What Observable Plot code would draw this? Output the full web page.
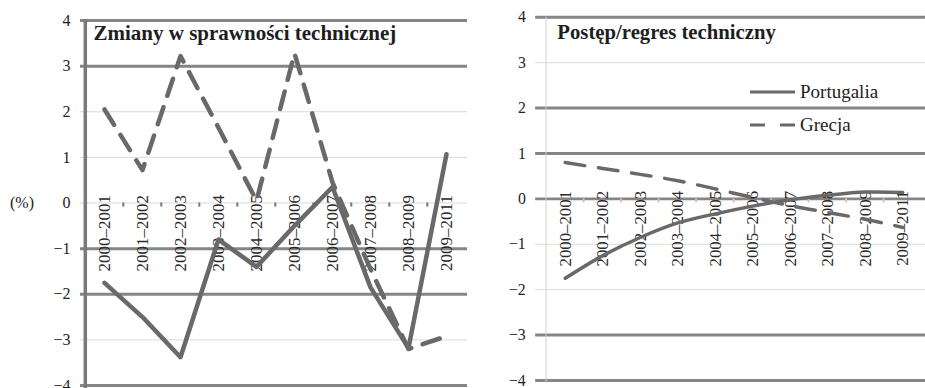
<!DOCTYPE html>
<html>
<head>
<meta charset="utf-8">
<script src="https://cdn.jsdelivr.net/npm/d3@7"></script>
<script src="https://cdn.jsdelivr.net/npm/@observablehq/plot@0.6"></script>
<style>
  body { margin: 0; background: #fff; overflow: hidden; }
  #wrap { position: relative; width: 925px; height: 388px; overflow: hidden; font-family: "Liberation Serif", "Times New Roman", serif; color: #222; }
  #left, #right { position: absolute; top: 0; }
  #left { left: 0; }
  #right { left: 470px; }
  .pct { position: absolute; left: 10px; top: 195px; font-size: 16px; line-height: 16px; }
  .legend { position: absolute; left: 750px; top: 75px; font-size: 19px; line-height: 26px; }
  .legend .row { display: flex; align-items: center; height: 33px; }
  .legend svg { margin-right: 5px; }
</style>
</head>
<body>
<div id="wrap">
  <div id="left"></div>
  <div id="right"></div>
  <div class="pct">(%)</div>
  <div class="legend" id="legend"></div>
</div>
<script>
// ---- data ----
const categories = ["2000–2001","2001–2002","2002–2003","2003–2004","2004–2005","2005–2006","2006–2007","2007–2008","2008–2009","2009–2011"];
const yTicks = [-4, -3, -2, -1, 0, 1, 2, 3, 4];
const seriesNames = ["Portugalia", "Grecja"];
const titles = ["Zmiany w sprawności technicznej", "Postęp/regres techniczny"];
// Zmiany w sprawności technicznej
const effPortugalia = [-1.75, -2.5, -3.38, -0.8, -1.4, -0.5, 0.35, -1.85, -3.18, 1.07];
const effGrecja     = [2.05, 0.72, 3.22, 1.65, 0.05, 3.28, 0.45, -1.45, -3.2, -2.92];
// Postęp/regres techniczny
const techPortugalia = [-1.75, -1.25, -0.85, -0.53, -0.33, -0.16, -0.02, 0.08, 0.15, 0.14];
const techGrecja     = [0.8, 0.67, 0.54, 0.4, 0.22, 0.03, -0.15, -0.3, -0.45, -0.63];

// ---- styles ----
const LINE = "#696969";
const GRID_DARK = "#858585";
const GRID_LIGHT = "#d9d9d9";
const FONT = "Liberation Serif, Times New Roman, serif";

const rows = vals => categories.map((c, i) => ({cat: c, v: vals[i]}));
const fmt = d => d < 0 ? "\u2212" + Math.abs(d) : String(d);

function panel(o) {
  const step = (o.width - o.marginLeft - o.marginRight) / categories.length;
  return Plot.plot({
    width: o.width,
    height: 388,
    marginLeft: o.marginLeft,
    marginRight: o.marginRight,
    marginTop: o.marginTop,
    marginBottom: 3,
    style: {fontFamily: FONT, fontSize: "16px", color: "#222", background: "transparent", overflow: "visible"},
    x: {type: "point", domain: categories, padding: 0.5, axis: null},
    y: {domain: [-4, 4], ticks: yTicks, tickFormat: fmt, tickSize: 0, tickPadding: o.tickPadding, label: null},
    marks: [
      Plot.ruleY(yTicks.filter(d => !o.thick.includes(d)), {y: d => d, stroke: GRID_LIGHT, strokeWidth: 1, insetLeft: -o.gridInset}),
      Plot.ruleY(o.thick, {y: d => d, stroke: GRID_DARK, strokeWidth: 3, insetLeft: -o.gridInset}),
      Plot.ruleX([categories[0]], {x: d => d, dx: -step / 2, stroke: o.axisColor, strokeWidth: o.axisWidth, insetBottom: -3}),
      Plot.ruleX(categories.slice(1), {x: d => d, dx: -step / 2, y1: () => 0, y2: () => -0.09, stroke: o.tickColor, strokeWidth: 2}),
      Plot.text(categories, {x: d => d, y: () => 0, text: d => d, rotate: -90, textAnchor: "end", dy: -8, fontSize: 17, fill: "#2a2a2a"}),
      Plot.line(rows(o.portugalia), {x: "cat", y: "v", stroke: LINE, strokeWidth: o.lineWidth, curve: o.curve}),
      Plot.line(rows(o.grecja), {x: "cat", y: "v", stroke: LINE, strokeWidth: o.lineWidth, strokeDasharray: o.dash, curve: o.curve}),
      Plot.text([o.title], {frameAnchor: "top-left", text: d => d, dx: o.titleDx, dy: o.titleDy, lineAnchor: "top", textAnchor: "start", fontSize: 21, fontWeight: "bold", fill: "#1e1e1e"})
    ]
  });
}

document.getElementById("left").append(panel({
  width: 470, marginLeft: 83, marginRight: 3, marginTop: 20,
  tickPadding: 13, gridInset: 3,
  thick: [4, 3, -1, -2, -4],
  axisColor: "#7a7a7a", axisWidth: 3.5, tickColor: "#777",
  lineWidth: 4.5, dash: "18,12", curve: "linear",
  portugalia: effPortugalia, grecja: effGrecja,
  title: titles[0], titleDx: 10, titleDy: 5
}));

document.getElementById("right").append(panel({
  width: 461, marginLeft: 72, marginRight: 0, marginTop: 17,
  tickPadding: 16, gridInset: 6,
  thick: [4, 2, 1, 0, -3, -4],
  axisColor: "#d0d0d0", axisWidth: 1, tickColor: "#c8c8c8",
  lineWidth: 3.5, dash: "20,14", curve: "catmull-rom",
  portugalia: techPortugalia, grecja: techGrecja,
  title: titles[1], titleDx: 16, titleDy: 7
}));

// legend
const legend = document.getElementById("legend");
const dashes = [null, "15,15"];
seriesNames.forEach((name, i) => {
  const row = document.createElement("div");
  row.className = "row";
  row.innerHTML = `<svg width="45" height="10"><line x1="0" x2="45" y1="5" y2="5" stroke="${LINE}" stroke-width="3" ${dashes[i] ? `stroke-dasharray="${dashes[i]}"` : ""}/></svg><span>${name}</span>`;
  legend.append(row);
});
</script>
</body>
</html>
